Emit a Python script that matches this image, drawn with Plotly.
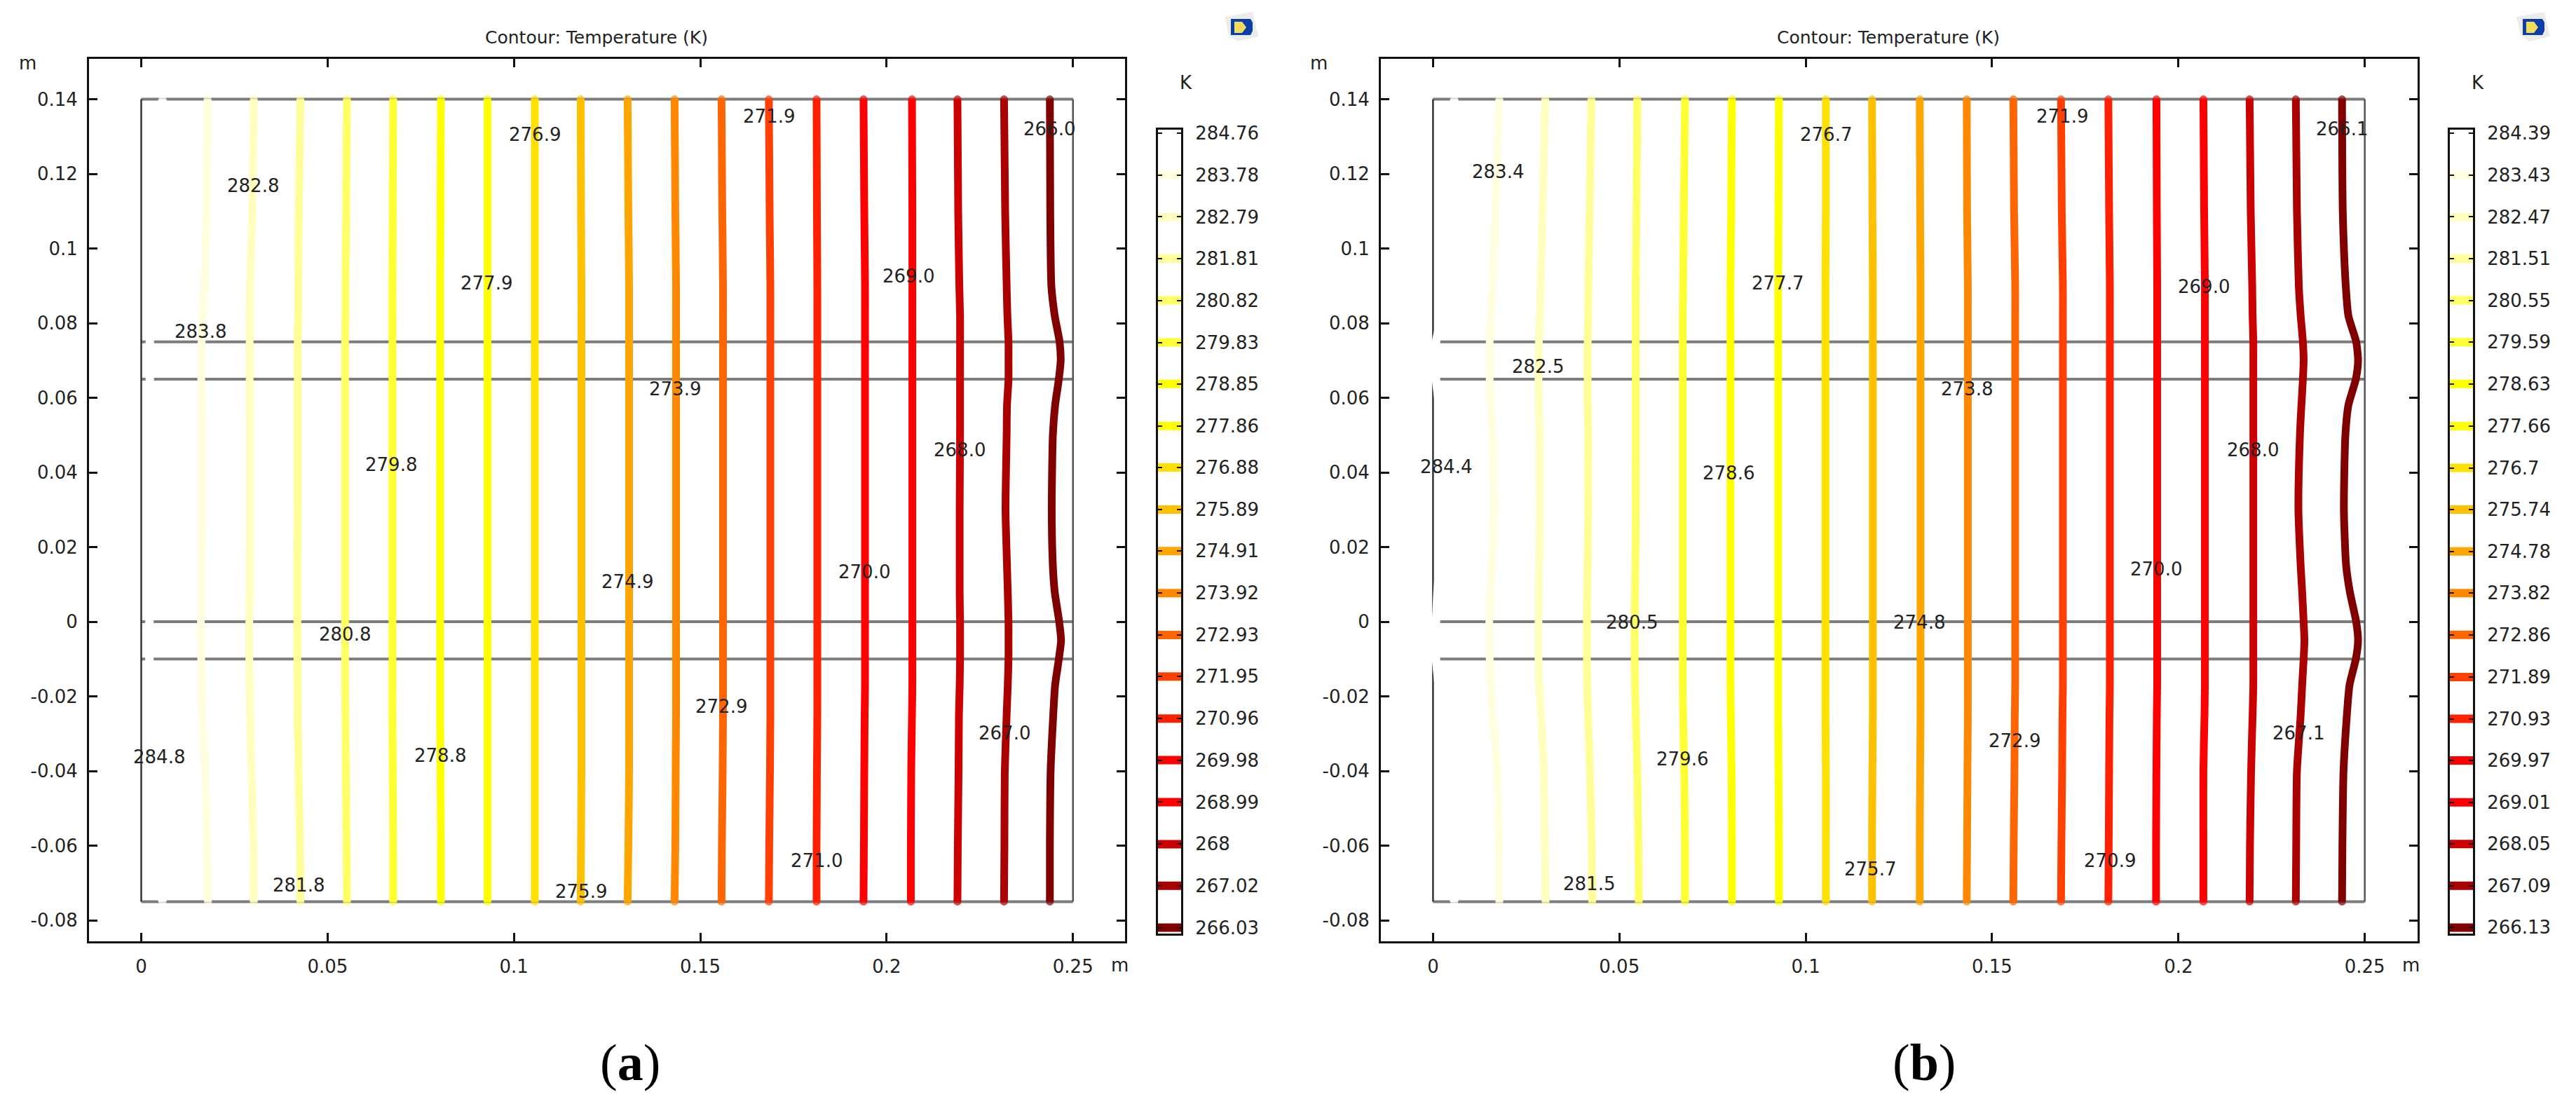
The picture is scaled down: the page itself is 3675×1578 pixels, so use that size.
import plotly.graph_objects as go

W = 3675
H = 1578
FONT = "DejaVu Sans"

# y rows (m) where each contour's x position was read
rows_y = [0.14, 0.11, 0.09, 0.082, 0.075, 0.07, 0.065, 0.058, 0.05, 0.03,
          0.015, 0.008, 0, -0.005, -0.01, -0.017, -0.025, -0.04, -0.06, -0.075]

levels_a = [284.76, 283.78, 282.79, 281.81, 280.82, 279.83, 278.85, 277.86, 276.88, 275.89,
            274.91, 273.92, 272.93, 271.95, 270.96, 269.98, 268.99, 268, 267.02, 266.03]
levels_b = [284.39, 283.43, 282.47, 281.51, 280.55, 279.59, 278.63, 277.66, 276.7, 275.74,
            274.78, 273.82, 272.86, 271.89, 270.93, 269.97, 269.01, 268.05, 267.09, 266.13]

level_colors = ["#FFFFFF", "#FFFFE0", "#FFFFC0", "#FFFF99", "#FFFF66", "#FFFF33", "#FFFF00",
                "#FFFF00", "#FFE000", "#FFC000", "#FFA500", "#FF8800", "#FF6600", "#FF4000",
                "#FF2000", "#FF0000", "#FF0000", "#CC0000", "#AA0000", "#800000"]

contours_a = [
    [.0057, .0045, .0032, .0026, .0023, .0022, .0023, .0024, .0025, .0026, .0024, .0023, .0022, .0021, .0022, .0023, .0026, .0033, .0047, .0057],
    [.0178, .0175, .0170, .0165, .0162, .0161, .0161, .0162, .0163, .0163, .0161, .0161, .0160, .0160, .0161, .0162, .0164, .0172, .0176, .0179],
    [.0302, .0298, .0292, .0291, .0291, .0291, .0291, .0291, .0292, .0292, .0291, .0291, .0290, .0290, .0290, .0291, .0292, .0296, .0301, .0302],
    [.0427, .0423, .0421, .0421, .0420, .0420, .0420, .0420, .0420, .0420, .0419, .0419, .0419, .0419, .0419, .0420, .0420, .0422, .0426, .0427],
    [.0552, .0550, .0548, .0548, .0547, .0547, .0547, .0547, .0547, .0547, .0547, .0547, .0547, .0547, .0547, .0547, .0548, .0549, .0551, .0552],
    [.0676, .0675, .0674, .0674, .0674, .0674, .0674, .0674, .0674, .0674, .0674, .0674, .0674, .0674, .0674, .0674, .0674, .0675, .0676, .0676],
    [.0804, .0803, .0802, .0802, .0802, .0802, .0802, .0802, .0802, .0802, .0802, .0802, .0802, .0802, .0802, .0802, .0802, .0803, .0804, .0804],
    [.0929, .0929, .0929, .0929, .0929, .0929, .0929, .0929, .0929, .0929, .0929, .0929, .0929, .0929, .0929, .0929, .0929, .0929, .0929, .0929],
    [.1056, .1056, .1056, .1056, .1056, .1056, .1056, .1056, .1056, .1056, .1056, .1056, .1056, .1056, .1056, .1056, .1056, .1056, .1056, .1056],
    [.1179, .1180, .1181, .1181, .1181, .1181, .1181, .1181, .1181, .1181, .1181, .1181, .1181, .1181, .1181, .1181, .1181, .1181, .1180, .1179],
    [.1305, .1307, .1309, .1309, .1309, .1309, .1309, .1309, .1309, .1309, .1309, .1309, .1309, .1309, .1309, .1309, .1309, .1309, .1307, .1305],
    [.1431, .1433, .1435, .1435, .1435, .1435, .1435, .1435, .1435, .1435, .1435, .1435, .1435, .1435, .1435, .1435, .1435, .1434, .1433, .1431],
    [.1557, .1559, .1561, .1561, .1561, .1561, .1561, .1561, .1561, .1561, .1561, .1561, .1561, .1561, .1561, .1561, .1561, .1560, .1558, .1557],
    [.1684, .1686, .1688, .1688, .1688, .1688, .1688, .1688, .1688, .1688, .1688, .1688, .1688, .1688, .1688, .1688, .1688, .1687, .1685, .1684],
    [.1812, .1813, .1814, .1814, .1814, .1814, .1814, .1814, .1814, .1814, .1814, .1814, .1814, .1814, .1814, .1814, .1814, .1813, .1812, .1812],
    [.1938, .1940, .1942, .1942, .1942, .1942, .1942, .1942, .1942, .1942, .1942, .1942, .1942, .1942, .1942, .1942, .1941, .1940, .1939, .1938],
    [.2068, .2069, .2069, .2069, .2069, .2069, .2069, .2069, .2069, .2069, .2069, .2069, .2069, .2069, .2069, .2069, .2068, .2066, .2065, .2065],
    [.2190, .2192, .2195, .2197, .2197, .2197, .2197, .2197, .2197, .2196, .2196, .2196, .2197, .2197, .2197, .2196, .2194, .2193, .2191, .2190],
    [.2315, .2318, .2322, .2324, .2327, .2327, .2327, .2323, .2322, .2319, .2323, .2325, .2327, .2327, .2327, .2325, .2322, .2317, .2316, .2315],
    [.2438, .2439, .2442, .2451, .2464, .2467, .2462, .2452, .2446, .2443, .2446, .2451, .2463, .2468, .2462, .2452, .2447, .2440, .2438, .2438],
]

contours_b = [
    [.0057, .0045, .0031, .0023, .0008, .0003, .0008, .0016, .0021, .0023, .0017, .0012, .0008, .0003, .0008, .0015, .0022, .0031, .0046, .0057],
    [.0178, .0167, .0160, .0155, .0152, .0152, .0152, .0154, .0160, .0164, .0158, .0154, .0151, .0151, .0152, .0155, .0160, .0172, .0177, .0178],
    [.0301, .0294, .0289, .0287, .0284, .0283, .0283, .0284, .0286, .0287, .0285, .0284, .0283, .0283, .0283, .0285, .0290, .0297, .0300, .0302],
    [.0425, .0420, .0417, .0416, .0415, .0415, .0415, .0415, .0416, .0416, .0415, .0414, .0413, .0413, .0413, .0414, .0416, .0421, .0426, .0427],
    [.0548, .0546, .0544, .0544, .0544, .0544, .0544, .0544, .0544, .0544, .0543, .0542, .0541, .0541, .0541, .0542, .0544, .0548, .0551, .0552],
    [.0676, .0673, .0671, .0670, .0670, .0670, .0670, .0670, .0670, .0670, .0670, .0670, .0670, .0670, .0670, .0670, .0671, .0674, .0676, .0676],
    [.0802, .0800, .0798, .0798, .0798, .0798, .0798, .0798, .0798, .0798, .0798, .0798, .0798, .0798, .0798, .0798, .0799, .0801, .0802, .0802],
    [.0928, .0927, .0926, .0926, .0926, .0926, .0926, .0926, .0926, .0926, .0926, .0926, .0926, .0926, .0926, .0926, .0926, .0927, .0928, .0928],
    [.1054, .1054, .1053, .1053, .1053, .1053, .1053, .1053, .1053, .1053, .1053, .1053, .1053, .1053, .1053, .1053, .1053, .1054, .1054, .1054],
    [.1178, .1179, .1180, .1180, .1180, .1180, .1180, .1180, .1180, .1180, .1180, .1180, .1180, .1180, .1180, .1180, .1180, .1179, .1178, .1178],
    [.1306, .1307, .1308, .1308, .1308, .1308, .1308, .1308, .1308, .1308, .1308, .1308, .1308, .1308, .1308, .1308, .1308, .1307, .1306, .1306],
    [.1432, .1433, .1435, .1435, .1435, .1435, .1435, .1435, .1435, .1435, .1435, .1435, .1435, .1435, .1435, .1435, .1435, .1434, .1433, .1432],
    [.1557, .1559, .1562, .1562, .1562, .1562, .1562, .1562, .1562, .1562, .1562, .1562, .1562, .1562, .1562, .1562, .1561, .1560, .1558, .1557],
    [.1685, .1687, .1690, .1690, .1690, .1690, .1690, .1690, .1690, .1690, .1690, .1690, .1690, .1690, .1690, .1690, .1689, .1688, .1686, .1685],
    [.1812, .1814, .1816, .1816, .1816, .1816, .1816, .1816, .1816, .1816, .1816, .1816, .1816, .1816, .1816, .1816, .1815, .1814, .1813, .1812],
    [.1941, .1942, .1943, .1943, .1943, .1943, .1943, .1943, .1943, .1943, .1943, .1943, .1943, .1943, .1943, .1943, .1942, .1941, .1940, .1940],
    [.2067, .2069, .2071, .2071, .2071, .2071, .2071, .2071, .2071, .2071, .2071, .2071, .2071, .2071, .2071, .2071, .2070, .2067, .2067, .2067],
    [.2191, .2194, .2198, .2199, .2201, .2201, .2201, .2201, .2201, .2201, .2201, .2201, .2201, .2201, .2201, .2201, .2199, .2195, .2192, .2191],
    [.2315, .2318, .2323, .2328, .2334, .2336, .2334, .2330, .2326, .2322, .2328, .2332, .2336, .2338, .2336, .2332, .2328, .2318, .2316, .2315],
    [.2439, .2441, .2449, .2456, .2477, .2482, .2476, .2456, .2448, .2444, .2450, .2460, .2477, .2482, .2476, .2459, .2452, .2443, .2440, .2439],
]

# contour labels: text, x (m), y (m)
labels_a = [("282.8", .0300, .1168), ("283.8", .0159, .0777), ("276.9", .1056, .1306), ("277.9", .0926, .0907),
            ("271.9", .1684, .1354), ("269.0", .2059, .0926), ("266.0", .2437, .1320), ("273.9", .1432, .0624),
            ("268.0", .2196, .0460), ("279.8", .0670, .0421), ("274.9", .1304, .0107), ("270.0", .1940, .0134),
            ("280.8", .0546, -.0034), ("272.9", .1556, -.0227), ("267.0", .2316, -.0298), ("284.8", .0048, -.0362),
            ("278.8", .0802, -.0359), ("281.8", .0422, -.0706), ("275.9", .1180, -.0723), ("271.0", .1812, -.0640)]
labels_b = [("283.4", .0174, .1206), ("282.5", .0281, .0683), ("276.7", .1054, .1306), ("277.7", .0925, .0907),
            ("271.9", .1688, .1354), ("269.0", .2069, .0897), ("266.1", .2439, .1320), ("273.8", .1432, .0624),
            ("268.0", .2200, .0460), ("278.6", .0793, .0398), ("284.4", .0035, .0415), ("274.8", .1304, -.0002),
            ("270.0", .1941, .0141), ("280.5", .0533, -.0002), ("272.9", .1560, -.0319), ("267.1", .2322, -.0298),
            ("279.6", .0669, -.0368), ("281.5", .0419, -.0702), ("275.7", .1172, -.0663), ("270.9", .1816, -.0640)]

boundary_y = [0.14, 0.075, 0.065, 0, -0.01, -0.075]
x_ticks = [0, 0.05, 0.1, 0.15, 0.2, 0.25]
y_ticks = [-0.08, -0.06, -0.04, -0.02, 0, 0.02, 0.04, 0.06, 0.08, 0.1, 0.12, 0.14]


def fx(px):
    return px / W


def fy(py):
    return 1 - py / H


def text_px(fig, text, px, py, size=26, family=FONT, color="#222222"):
    fig.add_annotation(text=text, xref="paper", yref="paper", x=fx(px), y=fy(py), showarrow=False,
                       xanchor="center", yanchor="middle", font=dict(size=size, family=family, color=color))


def add_icon(fig, px, py):
    def path(points):
        return "M " + " L ".join(f"{fx(px + a)},{fy(py + b)}" for a, b in points) + " Z"
    parts = [([(-24, -14), (16, -21), (24, 14), (-6, 21), (-18, 12)], "#ECECEC"),
             ([(-15, -11), (13, -11), (16, -6), (16, 6), (13, 12), (-15, 12)], "#0A3EA8"),
             ([(-10, -7), (1, -7), (7, 1), (1, 9), (-10, 9)], "#F2DC5A")]
    for pts, color in parts:
        fig.add_shape(type="path", path=path(pts), xref="paper", yref="paper", fillcolor=color, line_width=0)


def add_panel(fig, ax, cbax, levels, contours, labels, origin_px, frame, cb_x):
    xa, ya = ("x", "y") if ax == 1 else (f"x{ax}", f"y{ax}")
    xc, yc = f"x{cbax}", f"y{cbax}"

    # geometry lines of the model
    for yb in boundary_y:
        fig.add_trace(go.Scatter(x=[x_ticks[0], x_ticks[-1]], y=[yb, yb], mode="lines", xaxis=xa, yaxis=ya,
                                 line=dict(color="#7C7C7C", width=4), showlegend=False, hoverinfo="skip"))
    fig.add_trace(go.Scatter(x=[x_ticks[0], x_ticks[0]], y=[boundary_y[-1], boundary_y[0]], mode="lines", xaxis=xa,
                             yaxis=ya, line=dict(color="#333333", width=2.5), showlegend=False, hoverinfo="skip"))
    fig.add_trace(go.Scatter(x=[x_ticks[-1], x_ticks[-1]], y=[boundary_y[-1], boundary_y[0]], mode="lines", xaxis=xa,
                             yaxis=ya, line=dict(color="#555555", width=2.5), showlegend=False, hoverinfo="skip"))

    for i, xs in enumerate(contours):
        caps = [11] + [0] * (len(xs) - 2) + [11]
        fig.add_trace(go.Scatter(x=xs, y=rows_y, mode="lines+markers", xaxis=xa, yaxis=ya,
                                 line=dict(color=level_colors[i], width=12 if i == 0 else 11, shape="spline", smoothing=0.6),
                                 marker=dict(color=level_colors[i], size=caps, line_width=0),
                                 showlegend=False, hoverinfo="skip"))

    for text, lx, ly in labels:
        fig.add_annotation(text=text, x=lx, y=ly, xref=xa, yref=ya, showarrow=False, xanchor="center", yanchor="middle",
                           font=dict(size=26, family=FONT, color="#222222"))

    # colour legend, one short bar per level
    for lev, color in zip(levels, level_colors):
        fig.add_trace(go.Scatter(x=[0, 1], y=[lev, lev], mode="lines", xaxis=xc, yaxis=yc,
                                 line=dict(color=color, width=12), showlegend=False, hoverinfo="skip"))

    left, top, right, bottom = frame
    x0, y0 = origin_px
    scale_x, scale_y = 5317, 5325
    main_x = dict(domain=[fx(left), fx(right)], range=[(left - x0) / scale_x, (right - x0) / scale_x],
                  tickmode="array", tickvals=x_ticks, ticktext=[f"{v:g}" for v in x_ticks], ticks="inside", ticklen=12,
                  tickwidth=2.5, tickcolor="#111111", showgrid=False, zeroline=False, showline=True, linewidth=3,
                  linecolor="#111111", mirror="allticks", ticklabelstandoff=11, automargin=False,
                  tickfont=dict(size=26, family=FONT, color="#222222"))
    main_y = dict(domain=[fy(bottom), fy(top)], range=[0.14 - (bottom - y0) / scale_y, 0.14 - (top - y0) / scale_y],
                  tickmode="array", tickvals=y_ticks, ticktext=[f"{v:g}" for v in y_ticks], ticks="inside", ticklen=12,
                  tickwidth=2.5, tickcolor="#111111", showgrid=False, zeroline=False, showline=True, linewidth=3,
                  linecolor="#111111", mirror="allticks", ticklabelstandoff=8, automargin=False,
                  tickfont=dict(size=26, family=FONT, color="#222222"))
    cb_x_axis = dict(domain=[fx(cb_x[0]), fx(cb_x[1])], range=[0, 1], showticklabels=False, ticks="", showgrid=False,
                     zeroline=False, showline=True, linewidth=3, linecolor="#111111", mirror=True, anchor=yc,
                     automargin=False)
    # 60.5 px per kelvin on the legend bar
    cb_y_axis = dict(domain=[fy(1332), fy(185)], range=[levels[-1] - 8.4 / 60.5, levels[0] + 5.2 / 60.5],
                     side="right", tickmode="array", tickvals=levels, ticktext=[f"{v:g}" for v in levels],
                     ticks="inside", ticklen=6, tickwidth=2, tickcolor="#111111", showgrid=False, zeroline=False,
                     showline=True, linewidth=3, linecolor="#111111", mirror="allticks", anchor=xc, ticklabelstandoff=12,
                     automargin=False, tickfont=dict(size=26, family=FONT, color="#222222"))
    xname = "xaxis" if ax == 1 else f"xaxis{ax}"
    yname = "yaxis" if ax == 1 else f"yaxis{ax}"
    main_x["anchor"] = ya
    main_y["anchor"] = xa
    fig.update_layout({xname: main_x, yname: main_y, f"xaxis{cbax}": cb_x_axis, f"yaxis{cbax}": cb_y_axis})


fig = go.Figure()

add_panel(fig, 1, 2, levels_a, contours_a, labels_a, (201.5, 141.6), (127, 84, 1605, 1343), (1652, 1685))
add_panel(fig, 3, 4, levels_b, contours_b, labels_b, (2044.4, 141.6), (1970, 84, 3448.6, 1343), (3495, 3528))

for cx in (851, 2694):
    text_px(fig, "Contour: Temperature (K)", cx, 54, size=25)
for px, py, txt in [(39, 90, "m"), (1882, 90, "m"), (1597, 1377, "m"), (3439, 1377, "m"), (1692, 118, "K"), (3535, 118, "K")]:
    text_px(fig, txt, px, py)

text_px(fig, "(<b>a</b>)", 899, 1516, size=74, family="Liberation Serif", color="#000000")
text_px(fig, "(<b>b</b>)", 2745, 1516, size=74, family="Liberation Serif", color="#000000")

add_icon(fig, 1771, 38)
add_icon(fig, 3614, 38)

fig.update_layout(width=W, height=H, margin=dict(l=0, r=0, t=0, b=0), plot_bgcolor="white", paper_bgcolor="white",
                  showlegend=False)

fig.write_html("out.html", post_script="document.body.style.margin='0';", config={"displayModeBar": False})
